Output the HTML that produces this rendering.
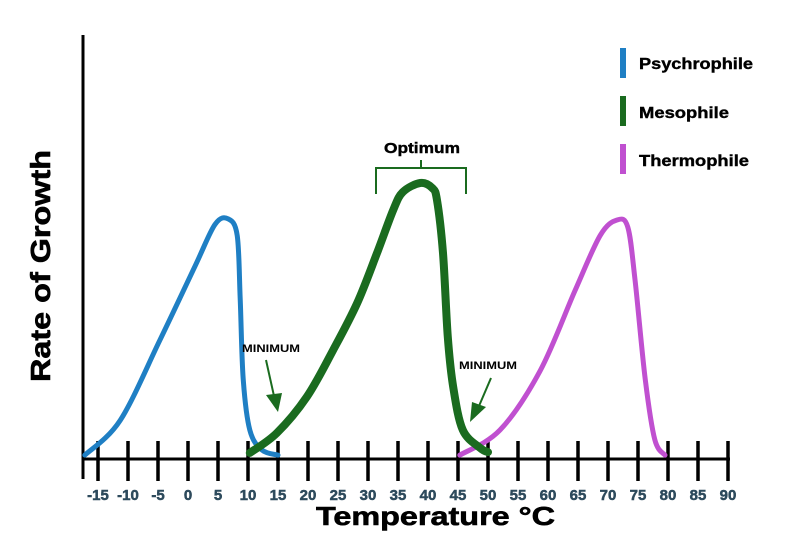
<!DOCTYPE html>
<html><head><meta charset="utf-8"><style>
html,body{margin:0;padding:0;background:#fff;}
svg{display:block;font-family:"Liberation Sans",sans-serif;}
</style></head><body>
<svg id="chart" width="800" height="533" viewBox="0 0 800 533">
<g id="axes"></g>
<g id="series"></g>
<g id="annotations">
  <text x="422" y="153" font-size="15" font-weight="bold" text-anchor="middle" textLength="76" lengthAdjust="spacingAndGlyphs" stroke="#000" stroke-width="0.4">Optimum</text>
  <path d="M376 194 V168 H466 V194 M421 168 V160" fill="none" stroke="#1a6b1f" stroke-width="2"/>
  <text x="271" y="352" font-size="11" font-weight="bold" text-anchor="middle" textLength="58" lengthAdjust="spacingAndGlyphs">MINIMUM</text>
  <line x1="266" y1="360" x2="274" y2="396" stroke="#1a6b1f" stroke-width="2"/>
  <polygon points="266,395 282,393 278,412" fill="#1a6b1f"/>
  <text x="488" y="369" font-size="11" font-weight="bold" text-anchor="middle" textLength="58" lengthAdjust="spacingAndGlyphs">MINIMUM</text>
  <line x1="491" y1="378" x2="479" y2="406" stroke="#1a6b1f" stroke-width="2"/>
  <polygon points="472,402 486,407 470,422" fill="#1a6b1f"/>
</g>
<g id="legend">
  <rect x="620" y="48" width="6" height="30" fill="#1f7fc4"/>
  <text x="639" y="69" font-size="16" font-weight="bold" textLength="114" lengthAdjust="spacingAndGlyphs" stroke="#000" stroke-width="0.4">Psychrophile</text>
  <rect x="620" y="96" width="6" height="30" fill="#1a6b1f"/>
  <text x="639" y="118" font-size="16" font-weight="bold" textLength="90" lengthAdjust="spacingAndGlyphs" stroke="#000" stroke-width="0.4">Mesophile</text>
  <rect x="620" y="144" width="6" height="30" fill="#c050d0"/>
  <text x="639" y="166" font-size="16" font-weight="bold" textLength="110" lengthAdjust="spacingAndGlyphs" stroke="#000" stroke-width="0.4">Thermophile</text>
</g>
<text x="316" y="525" font-size="26" font-weight="bold" textLength="239" lengthAdjust="spacingAndGlyphs" stroke="#000" stroke-width="0.6">Temperature °C</text>
<text transform="translate(50,266) rotate(-90)" font-size="28" font-weight="bold" text-anchor="middle" textLength="232" lengthAdjust="spacingAndGlyphs" stroke="#000" stroke-width="0.6">Rate of Growth</text>
</svg>
<script>
const tickLabels = [-15,-10,-5,0,5,10,15,20,25,30,35,40,45,50,55,60,65,70,75,80,85,90];
const psychroTemp = [-17.2,-11.3,-4.7,1.2,4.5,6.7,8.2,8.7,9.2,10.3,12.3,15];
const psychroRate = [1.4,14,43,70,85,87,81,58,29,10.5,3.3,1.4];
const mesoTemp = [10.3,14.8,19.8,24.2,28.2,31.5,34.2,35.8,38.7,40.7,41.5,42.5,43.3,44.2,45.8,48.7,50];
const mesoRate = [2.2,9.4,22.5,39.5,56.5,74.6,90.2,96.7,100,98.2,93.8,74.6,44.2,26.1,10.5,4,2.5];
const thermoTemp = [45.3,52,58.7,64.5,68.7,71.5,73.3,74.5,76.2,77.8,79.5];
const thermoRate = [1.4,10.5,32,61,81,86.6,84,65,29,7,1.4];

const NS = 'http://www.w3.org/2000/svg';
function xS(t){ return 98 + (t + 15) * 6; }
function yS(r){ return 459 - r * 2.76; }
function mk(tag, attrs, parent){
  const e = document.createElementNS(NS, tag);
  for (const k in attrs) e.setAttribute(k, attrs[k]);
  parent.appendChild(e); return e;
}
const axes = document.getElementById('axes');
const ya = mk('line', {x1:83,y1:35,x2:83,y2:479,stroke:'#000','stroke-width':3}, axes);


const xa = mk('line', {x1:82,y1:459,x2:730,y2:459,stroke:'#000','stroke-width':3}, axes);


tickLabels.forEach(v => {
  const x = xS(v);
  const tk = mk('line', {x1:x,y1:441,x2:x,y2:481,stroke:'#000','stroke-width':3.5}, axes);
  
  
  const tl = mk('text', {x:x,y:500,'font-size':15,'font-weight':'bold','text-anchor':'middle',fill:'#2d4a5c',stroke:'#2d4a5c','stroke-width':0.5}, axes);
  tl.textContent = v;
  
  
});
function smooth(ts, rs){
  const p = ts.map((t,i)=>[xS(t), yS(rs[i])]);
  let d = 'M' + p[0][0] + ' ' + p[0][1];
  for (let i=0;i<p.length-1;i++){
    const p0 = p[i-1]||p[i], p1=p[i], p2=p[i+1], p3=p[i+2]||p[i+1];
    const c1x = p1[0]+(p2[0]-p0[0])/6, c1y = p1[1]+(p2[1]-p0[1])/6;
    const c2x = p2[0]-(p3[0]-p1[0])/6, c2y = p2[1]-(p3[1]-p1[1])/6;
    d += ' C'+c1x+' '+c1y+' '+c2x+' '+c2y+' '+p2[0]+' '+p2[1];
  }
  return d;
}
const series = document.getElementById('series');
const s1 = mk('path', {d:smooth(psychroTemp, psychroRate),fill:'none',stroke:'#1f7fc4','stroke-width':5,'stroke-linecap':'round'}, series);


const s3 = mk('path', {d:smooth(thermoTemp, thermoRate),fill:'none',stroke:'#c050d0','stroke-width':5,'stroke-linecap':'round'}, series);


const s2 = mk('path', {d:smooth(mesoTemp, mesoRate),fill:'none',stroke:'#1a6b1f','stroke-width':8,'stroke-linecap':'round'}, series);


</script>
</body></html>
